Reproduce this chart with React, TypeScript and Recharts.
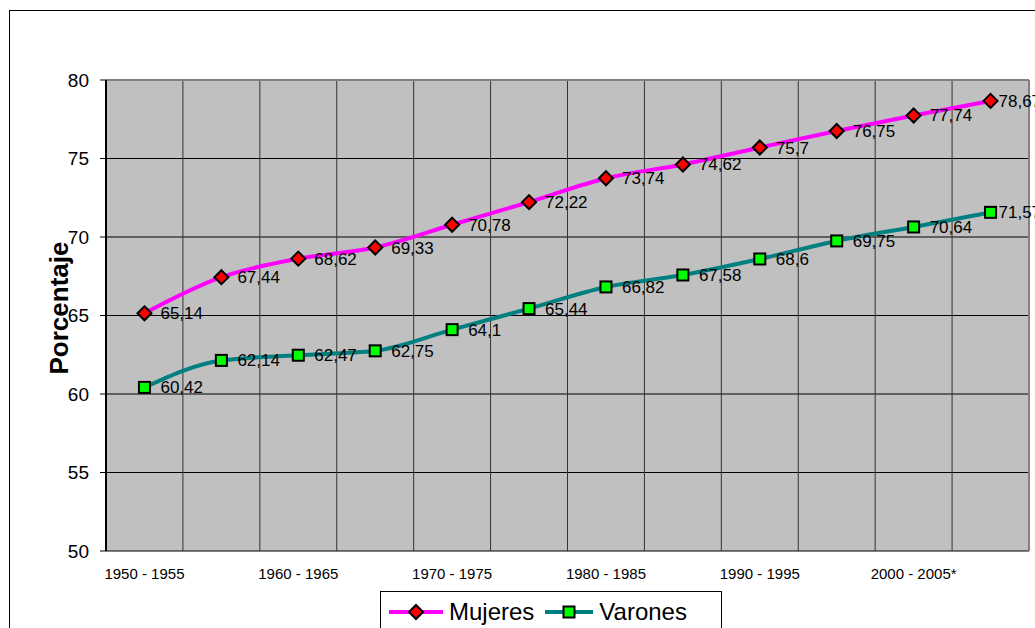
import React from 'react';
import {
  LineChart, Line, XAxis, YAxis, CartesianGrid, Legend, LabelList, ReferenceLine,
} from 'recharts';

const periods = [
  '1950 - 1955', '1955 - 1960', '1960 - 1965', '1965 - 1970', '1970 - 1975', '1975 - 1980',
  '1980 - 1985', '1985 - 1990', '1990 - 1995', '1995 - 2000', '2000 - 2005*', '2005 - 2010*',
];
const mujeres = [65.14, 67.44, 68.62, 69.33, 70.78, 72.22, 73.74, 74.62, 75.7, 76.75, 77.74, 78.67];
const varones = [60.42, 62.14, 62.47, 62.75, 64.1, 65.44, 66.82, 67.58, 68.6, 69.75, 70.64, 71.57];
const yTicks = [50, 55, 60, 65, 70, 75, 80];
const boundaryTicks = [0, 1, 2, 3, 4, 5, 6, 7, 8, 9, 10, 11, 12];
const labelTicks = [0.5, 2.5, 4.5, 6.5, 8.5, 10.5];

const data = periods.map((p, i) => ({ period: p, pos: i + 0.5, mujeres: mujeres[i], varones: varones[i] }));

const FONT = '"Liberation Sans", Arial, sans-serif';
const MAG = '#FF00FF';
const TEAL = '#008080';

const Diamond = ({ cx, cy, r = 7 }: any) => (
  <path d={`M${cx},${cy - r} L${cx + r},${cy} L${cx},${cy + r} L${cx - r},${cy} Z`} fill="#FF0000" stroke="#000" strokeWidth={2} />
);
const Square = ({ cx, cy, s = 11 }: any) => (
  <rect x={cx - s / 2} y={cy - s / 2} width={s} height={s} fill="#00FF00" stroke="#000" strokeWidth={2} />
);

const renderLabel = (props: any) => {
  const { x, y, value, index } = props;
  const dx = index === periods.length - 1 ? 8 : 16;
  return (
    <text x={x + dx} y={y + 6} fontSize={17} fill="#000" fontFamily={FONT}>
      {String(value).replace('.', ',')}
    </text>
  );
};

const renderLegend = () => (
  <div style={{
    boxSizing: 'border-box', width: 342, height: 42, border: '1px solid #000', background: '#fff',
    display: 'flex', alignItems: 'center', paddingLeft: 8, fontFamily: FONT, fontSize: 24, color: '#000',
  }}>
    <svg width={54} height={20} style={{ display: 'block' }}>
      <line x1={0} y1={10} x2={54} y2={10} stroke={MAG} strokeWidth={4} />
      <Diamond cx={27} cy={10} r={7} />
    </svg>
    <span style={{ marginLeft: 6 }}>Mujeres</span>
    <svg width={48} height={20} style={{ display: 'block', marginLeft: 11 }}>
      <line x1={0} y1={10} x2={48} y2={10} stroke={TEAL} strokeWidth={4} />
      <Square cx={24} cy={10} s={11} />
    </svg>
    <span style={{ marginLeft: 6 }}>Varones</span>
  </div>
);

const YLabel = (props: any) => {
  const vb = props.viewBox || { x: 0, y: 80, height: 471 };
  const x = vb.x + 68;
  const y = 308;
  return (
    <text x={x} y={y} transform={`rotate(-90, ${x}, ${y})`} textAnchor="middle" fontSize={26} fontWeight="bold" fill="#000" fontFamily={FONT}>
      Porcentaje
    </text>
  );
};

export default function App() {
  return (
    <div style={{ position: 'absolute', left: 0, top: 0, width: 1035, height: 628, overflow: 'hidden', background: '#fff', fontFamily: FONT }}>
      <div style={{ position: 'absolute', left: 9, top: 10, width: 1100, height: 700, border: '1px solid #000' }} />
      <LineChart width={1035} height={628} data={data} margin={{ top: 80, right: 6, left: 0, bottom: 47 }} style={{ fontFamily: FONT }}>
        <CartesianGrid fill="#C0C0C0" vertical={false} stroke="#000" strokeWidth={1} />
        <CartesianGrid horizontal={false} stroke="#333" strokeWidth={1} />
        <ReferenceLine y={80} stroke="#808080" strokeWidth={2} />
        <ReferenceLine x={12} stroke="#808080" strokeWidth={2} />
        <XAxis
          type="number" dataKey="pos" domain={[0, 12]} ticks={boundaryTicks} interval={0}
          tickFormatter={() => ''} height={0} tickSize={6}
          axisLine={{ stroke: '#000', strokeWidth: 2 }} tickLine={{ stroke: '#000' }}
        />
        <XAxis
          xAxisId="lab" type="number" dataKey="pos" domain={[0, 12]} ticks={labelTicks} interval={0}
          allowDataOverflow tickFormatter={(v: number) => periods[Math.floor(v)]}
          axisLine={false} tickLine={false} tickSize={6} tickMargin={11} height={30}
          tick={{ fontSize: 15, fill: '#000', fontFamily: FONT }}
        />
        <YAxis
          type="number" domain={[50, 80]} ticks={yTicks} interval={0} width={106}
          tickSize={6} tickMargin={11}
          axisLine={{ stroke: '#000', strokeWidth: 2 }} tickLine={{ stroke: '#000' }}
          tick={{ fontSize: 19, fill: '#000', fontFamily: FONT }}
          label={<YLabel />}
        />
        <Line
          type="monotone" dataKey="mujeres" name="Mujeres" stroke={MAG} strokeWidth={4}
          isAnimationActive={false}
          dot={(p: any) => <Diamond key={`d${p.index}`} cx={p.cx} cy={p.cy} r={7} />}
          activeDot={false}
        >
          <LabelList dataKey="mujeres" content={renderLabel} />
        </Line>
        <Line
          type="monotone" dataKey="varones" name="Varones" stroke={TEAL} strokeWidth={4}
          isAnimationActive={false}
          dot={(p: any) => <Square key={`s${p.index}`} cx={p.cx} cy={p.cy} s={11} />}
          activeDot={false}
        >
          <LabelList dataKey="varones" content={renderLabel} />
        </Line>
        <Legend
          layout="horizontal" verticalAlign="middle" align="center"
          wrapperStyle={{ position: 'absolute', left: 380, top: 591, width: 342, height: 42 }}
          content={renderLegend}
        />
      </LineChart>
    </div>
  );
}
